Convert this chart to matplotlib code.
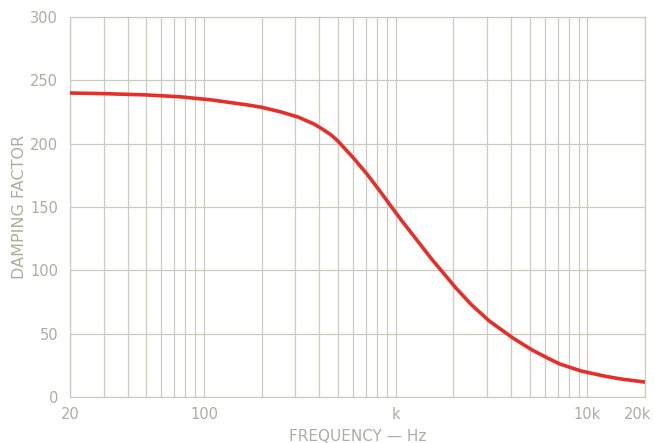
import numpy as np
import matplotlib
matplotlib.use("Agg")
from matplotlib import pyplot as plt
from matplotlib.transforms import ScaledTranslation

# damping factor vs frequency
freq = [20, 30, 50, 75, 110, 170, 200, 250, 310, 375, 410, 460, 500, 600, 715,
        820, 950, 1070, 1250, 1530, 2070, 2480, 3080, 4100, 5100, 6250, 7150,
        9300, 12200, 15000, 20000]
damping = [240, 239.5, 238.5, 237, 234.5, 230.5, 228.7, 225.2, 221, 215.5,
           212, 207, 202, 189, 175.3, 163.4, 150.2, 139.7, 126.6, 109.5,
           85.8, 73, 60, 46.5, 37.5, 30.5, 26.2, 20.5, 16.6, 14.2, 11.8]

xtick_vals = [20, 100, 1000, 10000, 20000]
xtick_labels = ["20", "100", "k", "10k", "20k"]
ytick_vals = [0, 50, 100, 150, 200, 250, 300]

grid_col = "#cbcbc0"
text_col = "#adada5"

fig = plt.figure(figsize=(6.55, 4.43), dpi=100)
ax = fig.add_axes([70/655, 46/443, 575/655, 380/443])

# log grid lines (20..90, 100..900, ...)
minor = [m * 10**e for e in range(1, 5) for m in range(1, 10)]
minor = [v for v in minor if 20 <= v <= 20000]
for v in minor:
    ax.axvline(v, color=grid_col, lw=0.9, zorder=1)
for v in ytick_vals:
    ax.axhline(v, color=grid_col, lw=0.9, zorder=1)

ax.plot(freq, damping, color="#e5302a", lw=2.6, solid_capstyle="round",
        solid_joinstyle="round", zorder=3)

ax.set_xscale("log")
ax.set_xlim(20, 20000)
ax.set_ylim(0, 300)
ax.set_xticks(xtick_vals)
ax.set_xticklabels(xtick_labels)
ax.xaxis.set_minor_locator(matplotlib.ticker.NullLocator())
ax.set_yticks(ytick_vals)
ax.tick_params(length=0, colors=text_col, labelsize=10.5)
ax.tick_params(axis="y", pad=8.5)
ax.tick_params(axis="x", pad=7)
for s in ax.spines.values():
    s.set_color(grid_col)
    s.set_linewidth(0.9)

# nudge the 20k label so it stays on the canvas
last = ax.get_xticklabels()[-1]
last.set_transform(last.get_transform() + ScaledTranslation(-5/72, 0, fig.dpi_scale_trans))

ax.set_xlabel("FREQUENCY \u2014 Hz", color=text_col, fontsize=11, labelpad=5)
ax.set_ylabel("DAMPING FACTOR", color=text_col, fontsize=11.5, labelpad=2)

plt.savefig("out.png", dpi=100)
